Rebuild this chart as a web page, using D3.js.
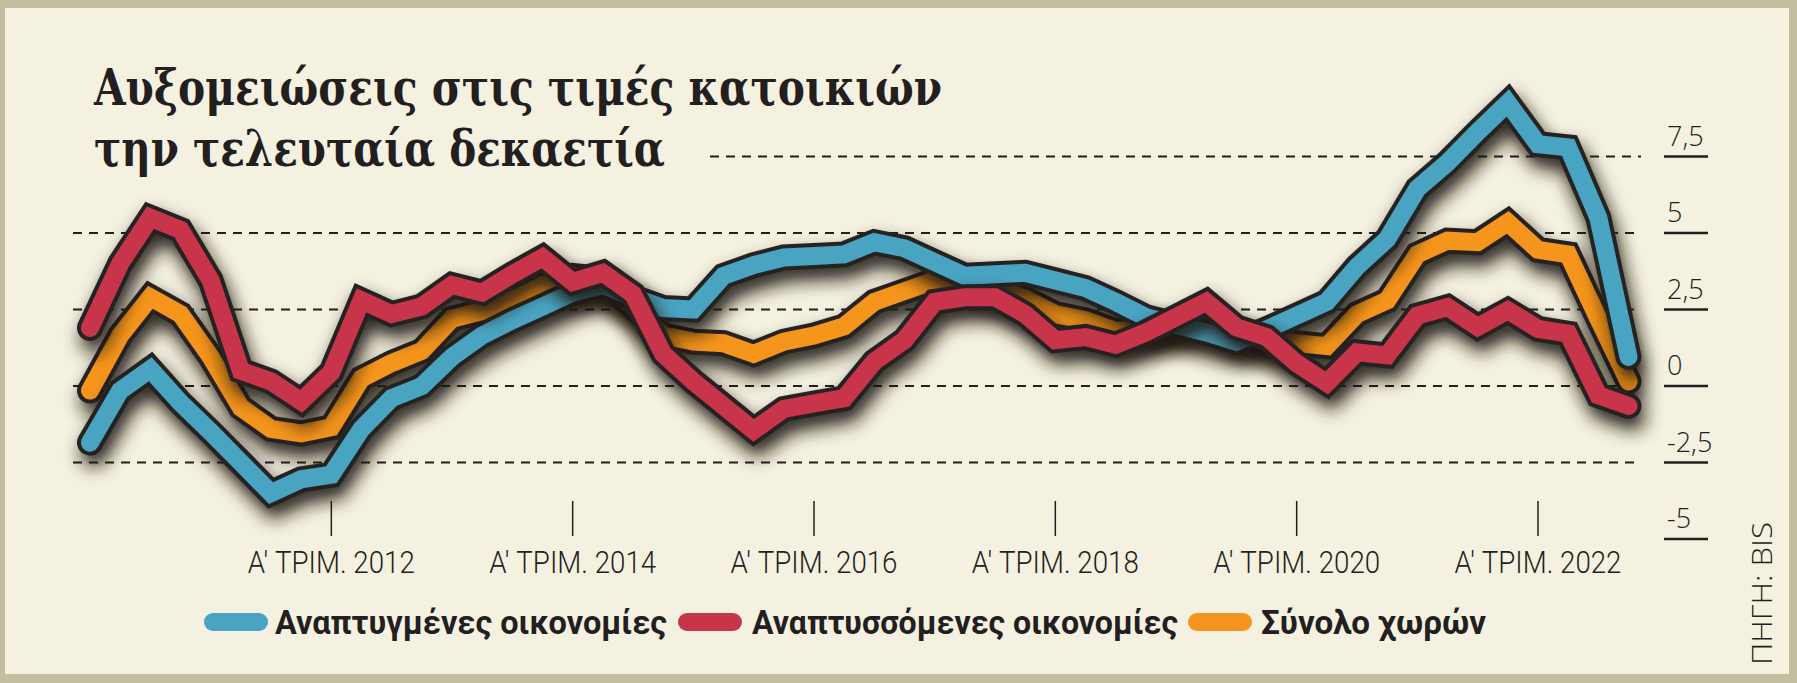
<!DOCTYPE html>
<html>
<head>
<meta charset="utf-8">
<script src="https://cdn.jsdelivr.net/npm/d3@7"></script>
<style>
  body { margin: 0; background: #c4bea0; }
  svg { display: block; }
</style>
</head>
<body>
<script>
/* DATA */
const quarters = [
  '2010Q1','2010Q2','2010Q3','2010Q4','2011Q1','2011Q2','2011Q3','2011Q4',
  '2012Q1','2012Q2','2012Q3','2012Q4','2013Q1','2013Q2','2013Q3','2013Q4',
  '2014Q1','2014Q2','2014Q3','2014Q4','2015Q1','2015Q2','2015Q3','2015Q4',
  '2016Q1','2016Q2','2016Q3','2016Q4','2017Q1','2017Q2','2017Q3','2017Q4',
  '2018Q1','2018Q2','2018Q3','2018Q4','2019Q1','2019Q2','2019Q3','2019Q4',
  '2020Q1','2020Q2','2020Q3','2020Q4','2021Q1','2021Q2','2021Q3','2021Q4',
  '2022Q1','2022Q2','2022Q3','2022Q4'
];
// Αναπτυγμένες οικονομίες
const developed = [
  -1.85, -0.15, 0.55, -0.55, -1.5, -2.5, -3.5, -3.05, -2.9, -1.4,
  -0.4, 0.0, 0.95, 1.65, 2.15, 2.6, 3.05, 3.3, 2.9, 2.55,
  2.5, 3.6, 3.95, 4.2, 4.25, 4.3, 4.7, 4.5, 4.05, 3.6,
  3.65, 3.7, 3.45, 3.2, 2.75, 2.25, 2.0, 1.75, 1.45, 1.85,
  2.3, 2.75, 3.9, 4.8, 6.45, 7.3, 8.3, 9.25, 7.9, 7.8,
  5.5, 0.95
];
// Αναπτυσσόμενες οικονομίες
const emerging = [
  1.9, 4.0, 5.5, 5.1, 3.45, 0.5, 0.15, -0.5, 0.45, 2.8,
  2.35, 2.6, 3.3, 3.05, 3.65, 4.2, 3.4, 3.7, 3.0, 1.05,
  0.15, -0.65, -1.45, -0.75, -0.57, -0.4, 0.8, 1.5, 2.75, 2.9,
  2.9, 2.35, 1.5, 1.6, 1.35, 1.75, 2.25, 2.75, 1.92, 1.6,
  0.74, 0.1, 1.1, 1.0, 2.3, 2.58, 1.93, 2.47, 1.87, 1.71,
  -0.3, -0.65
];
// Σύνολο χωρών
const total = [
  -0.15, 1.65, 2.9, 2.35, 0.95, -0.7, -1.4, -1.55, -1.35, 0.25,
  0.75, 1.15, 2.2, 2.45, 2.8, 3.3, 3.6, 3.5, 2.6, 1.65,
  1.45, 1.4, 1.05, 1.45, 1.65, 1.95, 2.75, 3.1, 3.45, 3.55,
  3.2, 2.85, 2.35, 2.15, 1.8, 1.85, 2.05, 2.1, 1.75, 1.5,
  1.4, 1.3, 2.35, 2.8, 4.3, 4.75, 4.7, 5.35, 4.45, 4.3,
  2.2, 0.15
];
const seriesNames = ['Αναπτυγμένες οικονομίες', 'Αναπτυσσόμενες οικονομίες', 'Σύνολο χωρών'];
const tickQuarters = ['2012Q1', '2014Q1', '2016Q1', '2018Q1', '2020Q1', '2022Q1'];
const tickLabels = ["Α' ΤΡΙΜ. 2012", "Α' ΤΡΙΜ. 2014", "Α' ΤΡΙΜ. 2016", "Α' ΤΡΙΜ. 2018", "Α' ΤΡΙΜ. 2020", "Α' ΤΡΙΜ. 2022"];
const yTicks = [7.5, 5, 2.5, 0, -2.5, -5];
const titleLines = ['Αυξομειώσεις στις τιμές κατοικιών', 'την τελευταία δεκαετία'];
const sourceText = 'ΠΗΓΗ: BIS';

/* STYLE */
var width = 1797;
var height = 683;
var frameColor = '#c4bea0';
var backgroundColor = '#f4f1e0';
var inkColor = '#231f20';
var blueColor = '#48a4c2';
var redColor = '#c8354b';
var orangeColor = '#f5951f';

/* SCALES */
const x = d3.scalePoint()
    .domain(quarters)
    .range([90, 1628.5]);

const y = d3.scaleLinear()
    .domain([-5, 7.5])
    .range([539, 156.5]);

const line = d3.line()
    .x((d, i) => x(quarters[i]))
    .y(d => y(d));

// 7.5 -> "7,5"
const commaFormat = v => d3.format('')(v).replace('.', ',').replace('−', '-');

/* SVG */
const svg = d3.select('body').append('svg')
    .attr('width', width)
    .attr('height', height);

const defs = svg.append('defs');
const shadow = defs.append('filter')
    .attr('id', 'shadow')
    .attr('x', '-10%').attr('y', '-30%')
    .attr('width', '120%').attr('height', '180%');
shadow.append('feDropShadow')
    .attr('dx', 4)
    .attr('dy', 11)
    .attr('stdDeviation', 9)
    .attr('flood-color', '#1a120c')
    .attr('flood-opacity', 0.95);

// frame + cream panel
svg.append('rect')
    .attr('width', width).attr('height', height)
    .attr('fill', frameColor);
svg.append('rect')
    .attr('x', 5).attr('y', 8)
    .attr('width', 1789 - 5).attr('height', 674 - 8)
    .attr('fill', backgroundColor);

/* TITLE */
const titleGroup = svg.append('g');
titleGroup.selectAll('text')
    .data(titleLines)
    .join('text')
    .attr('x', 94)
    .attr('y', (d, i) => 105 + i * 61)
    .attr('textLength', (d, i) => i === 0 ? 848 : 571)
    .attr('lengthAdjust', 'spacingAndGlyphs')
    .attr('fill', inkColor)
    .style('font', 'bold 50px "DejaVu Serif Condensed", "DejaVu Serif", serif')
    .text(d => d);

/* GRID */
const gridGroup = svg.append('g');
gridGroup.selectAll('line')
    .data(yTicks.filter(v => v > -5))
    .join('line')
    .attr('x1', d => d === 7.5 ? 710 : 73)
    .attr('x2', 1641)
    .attr('y1', d => y(d))
    .attr('y2', d => y(d))
    .attr('stroke', inkColor)
    .attr('stroke-width', 2)
    .attr('stroke-dasharray', '9,7');

// right-hand value labels with underline
const yLabelGroup = svg.append('g');
yLabelGroup.selectAll('line')
    .data(yTicks)
    .join('line')
    .attr('x1', 1664).attr('x2', 1708)
    .attr('y1', d => y(d)).attr('y2', d => y(d))
    .attr('stroke', inkColor)
    .attr('stroke-width', 2.5);
yLabelGroup.selectAll('text')
    .data(yTicks)
    .join('text')
    .attr('x', 1667)
    .attr('y', d => y(d) - 11)
    .attr('fill', inkColor)
    .style('font', '300 27px "Open Sans", "DejaVu Sans", sans-serif')
    .text(d => commaFormat(d));

/* X AXIS */
const xAxisGroup = svg.append('g');
xAxisGroup.selectAll('line')
    .data(tickQuarters)
    .join('line')
    .attr('x1', d => x(d)).attr('x2', d => x(d))
    .attr('y1', 501).attr('y2', 536)
    .attr('stroke', inkColor)
    .attr('stroke-width', 1.5);
xAxisGroup.selectAll('text')
    .data(tickQuarters)
    .join('text')
    .attr('x', d => x(d))
    .attr('y', 573)
    .attr('text-anchor', 'middle')
    .attr('textLength', 167)
    .attr('lengthAdjust', 'spacingAndGlyphs')
    .attr('fill', inkColor)
    .style('font', '300 31px Roboto, "Open Sans", sans-serif')
    .text((d, i) => tickLabels[i]);

/* LINES (orange under blue under red) */
const series = [
    {values: total, color: orangeColor},
    {values: developed, color: blueColor},
    {values: emerging, color: redColor}
];
const linesGroup = svg.append('g');
series.forEach(s => {
    const g = linesGroup.append('g').attr('filter', 'url(#shadow)');
    g.append('path')
        .attr('d', line(s.values))
        .attr('fill', 'none')
        .attr('stroke', '#262424')
        .attr('stroke-width', 26)
        .attr('stroke-linecap', 'round')
        .attr('stroke-linejoin', 'miter')
        .attr('stroke-miterlimit', 3);
    g.append('path')
        .attr('d', line(s.values))
        .attr('fill', 'none')
        .attr('stroke', s.color)
        .attr('stroke-width', 18)
        .attr('stroke-linecap', 'round')
        .attr('stroke-linejoin', 'miter')
        .attr('stroke-miterlimit', 3);
});

/* LEGEND */
const legendItems = [
    {name: seriesNames[0], color: blueColor, sx: 204, tx: 275, tw: 392},
    {name: seriesNames[1], color: redColor, sx: 678, tx: 752, tw: 426},
    {name: seriesNames[2], color: orangeColor, sx: 1188, tx: 1261, tw: 225}
];
const legend = svg.append('g');
legend.selectAll('rect')
    .data(legendItems)
    .join('rect')
    .attr('x', d => d.sx)
    .attr('y', 613)
    .attr('width', 64)
    .attr('height', 18)
    .attr('rx', 9)
    .attr('fill', d => d.color);
legend.selectAll('text')
    .data(legendItems)
    .join('text')
    .attr('x', d => d.tx)
    .attr('y', 634)
    .attr('textLength', d => d.tw)
    .attr('lengthAdjust', 'spacingAndGlyphs')
    .attr('fill', inkColor)
    .style('font', 'bold 33px Roboto, "Open Sans", sans-serif')
    .text(d => d.name);

/* SOURCE */
svg.append('text')
    .attr('transform', 'translate(1772, 665) rotate(-90)')
    .attr('textLength', 143)
    .attr('lengthAdjust', 'spacingAndGlyphs')
    .attr('fill', inkColor)
    .style('font', '300 27px "Open Sans", "DejaVu Sans", sans-serif')
    .text(sourceText);
</script>
</body>
</html>
